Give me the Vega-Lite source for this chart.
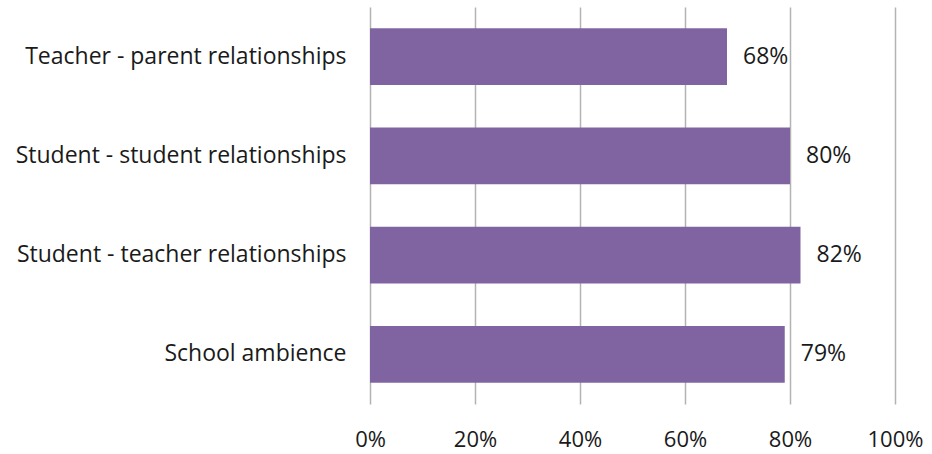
{
  "$schema": "https://vega.github.io/schema/vega-lite/v6.json",
  "autosize": "none",
  "width": 525,
  "height": 397,
  "padding": {"left": 370, "top": 7, "right": 37, "bottom": 50},
  "background": "white",
  "config": {"view": {"stroke": null}, "font": "Open Sans"},
  "data": {"values": [
    {"category": "Teacher - parent relationships", "value": 0.68},
    {"category": "Student - student relationships", "value": 0.80},
    {"category": "Student - teacher relationships", "value": 0.82},
    {"category": "School ambience", "value": 0.79}
  ]},
  "encoding": {
    "y": {"field": "category", "type": "nominal", "sort": null,
      "scale": {"paddingInner": 0.426, "paddingOuter": 0.213},
      "axis": {"title": null, "domain": false, "ticks": false, "labelPadding": 24, "labelFontSize": 23, "labelColor": "#1a1a1a", "labelFont": "Open Sans", "labelLimit": 400}},
    "x": {"field": "value", "type": "quantitative",
      "scale": {"domain": [0, 1], "nice": false},
      "axis": {"title": null, "format": ".0%", "values": [0, 0.2, 0.4, 0.6, 0.8, 1], "domain": false, "ticks": false, "grid": true, "gridColor": "#b3b3b3", "gridWidth": 1.5, "labelFlush": false, "labelBound": false, "labelOverlap": false, "labelPadding": 25, "labelFontSize": 22, "labelColor": "#1a1a1a", "labelFont": "Open Sans"}}
  },
  "layer": [
    {"mark": {"type": "bar", "color": "#8064a2"}},
    {"mark": {"type": "text", "align": "left", "dx": 16, "fontSize": 23, "color": "#1a1a1a", "font": "Open Sans"},
     "encoding": {"text": {"field": "value", "format": ".0%"}}}
  ]
}
